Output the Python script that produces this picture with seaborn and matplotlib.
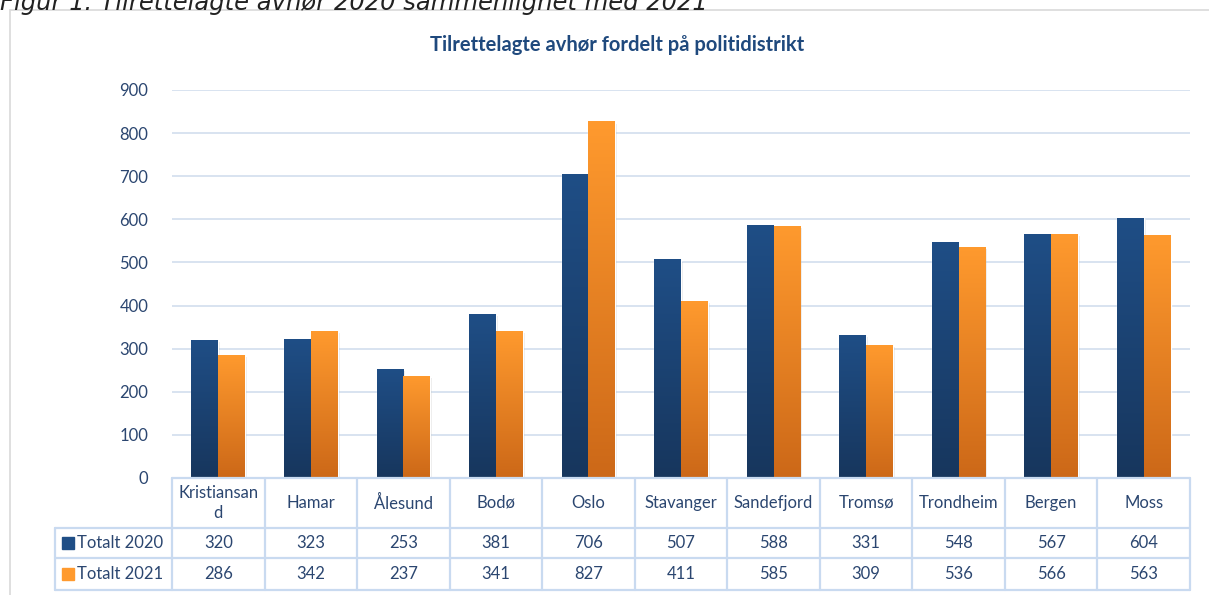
import numpy as np
import pandas as pd
import seaborn as sns
import matplotlib.pyplot as plt
from matplotlib.colors import LinearSegmentedColormap
from matplotlib.patches import Rectangle

districts = ['Kristiansand', 'Hamar', 'Ålesund', 'Bodø', 'Oslo', 'Stavanger',
             'Sandefjord', 'Tromsø', 'Trondheim', 'Bergen', 'Moss']
header_labels = ['Kristiansan\nd', 'Hamar', 'Ålesund', 'Bodø', 'Oslo', 'Stavanger',
                 'Sandefjord', 'Tromsø', 'Trondheim', 'Bergen', 'Moss']
totalt_2020 = [320, 323, 253, 381, 706, 507, 588, 331, 548, 567, 604]
totalt_2021 = [286, 342, 237, 341, 827, 411, 585, 309, 536, 566, 563]
series = ['Totalt 2020', 'Totalt 2021']
yticks = list(range(0, 1000, 100))

df = pd.DataFrame({
    'distrikt': districts * 2,
    'serie': [series[0]] * len(districts) + [series[1]] * len(districts),
    'antall': totalt_2020 + totalt_2021,
})

sns.set_theme(style='white')
plt.rcParams['font.family'] = ['Lato', 'DejaVu Sans']

navy = ('#17365D', '#1F4E86')     # bottom, top
orange = ('#CC6818', '#FF9A2E')
txt = '#2B4670'
line_c = '#C9DAF0'
fs = 12

fig = plt.figure(figsize=(12.09, 5.95), dpi=100)
ax = fig.add_axes([172 / 1209, 1 - 478 / 595, 1018 / 1209, 388 / 595])

sns.barplot(data=df, x='distrikt', y='antall', hue='serie', order=districts,
            palette=[navy[1], orange[1]], width=0.58, gap=0, ax=ax,
            legend=False, saturation=1)

# gradient fill for each bar
cmaps = [LinearSegmentedColormap.from_list('n', list(navy)),
         LinearSegmentedColormap.from_list('o', list(orange))]
grad = np.linspace(0, 1, 256).reshape(-1, 1)
n = len(districts)
for k, p in enumerate(ax.patches[:2 * n]):
    x0, w, h = p.get_x(), p.get_width(), p.get_height()
    # soft shadow
    ax.add_patch(Rectangle((x0 + 0.02, -5), w, h, color='#000000', alpha=0.08,
                           lw=0, zorder=1.5))
    im = ax.imshow(grad, extent=[x0, x0 + w, 0, h], origin='lower',
                   cmap=cmaps[k // n], aspect='auto', zorder=2)
    im.set_clip_path(p)
    p.set_zorder(2)

ax.set_xlim(-0.5, n - 0.5)
ax.set_ylim(0, 900)
ax.set_yticks(yticks)
ax.set_yticklabels([str(v) for v in yticks], color=txt, fontsize=fs)
ax.tick_params(axis='y', length=0, pad=17)
ax.set_xticks([])
ax.set_xlabel('')
ax.set_ylabel('')
ax.grid(axis='y', color='#D5E0EF', lw=1.3)
ax.set_axisbelow(True)
for s in ax.spines.values():
    s.set_visible(False)

fig.text(617 / 1209, 1 - 45 / 595, 'Tilrettelagte avhør fordelt på politidistrikt',
         color='#1F497D', fontsize=14.5, fontweight='bold', ha='center', va='center')

# data table under the axis
tr = ax.get_xaxis_transform()
left = -0.5 - 117 / (1018 / n)
r0, r1, r2, r3 = 0, -50 / 388, -80 / 388, -112 / 388
kw = dict(color=line_c, lw=1.6, transform=tr, clip_on=False)
ax.plot([-0.5, n - 0.5], [r0, r0], **kw)
for r in (r1, r2, r3):
    ax.plot([left, n - 0.5], [r, r], **kw)
for i in range(n + 1):
    ax.plot([i - 0.5, i - 0.5], [r0, r3], **kw)
ax.plot([left, left], [r1, r3], **kw)

for i in range(n):
    ax.text(i, (r0 + r1) / 2, header_labels[i], transform=tr, ha='center',
            va='center', color=txt, fontsize=fs, linespacing=1.3)
    ax.text(i, (r1 + r2) / 2, str(totalt_2020[i]), transform=tr, ha='center',
            va='center', color=txt, fontsize=fs)
    ax.text(i, (r2 + r3) / 2, str(totalt_2021[i]), transform=tr, ha='center',
            va='center', color=txt, fontsize=fs)

for j, (r_top, r_bot) in enumerate([(r1, r2), (r2, r3)]):
    yc = (r_top + r_bot) / 2
    ax.plot([left + 0.14], [yc], marker='s', ms=9, color=[navy, orange][j][1],
            transform=tr, clip_on=False)
    ax.text(left + 0.24, yc, series[j], transform=tr, ha='left', va='center',
            color=txt, fontsize=fs)

# outer chart frame and figure caption
fig.patches.append(Rectangle((10 / 1209, -0.05), 1.2, 1 - 10 / 595 + 0.05,
                             transform=fig.transFigure, fill=False,
                             ec='#D9D9D9', lw=1.2))
fig.text(0.0, 1 - 3 / 595, 'Figur 1: Tilrettelagte avhør 2020 sammenlignet med 2021',
         family='DejaVu Sans', style='italic', fontsize=17.5, color='#222222',
         ha='left', va='center')

fig.savefig('out.png', dpi=100)
